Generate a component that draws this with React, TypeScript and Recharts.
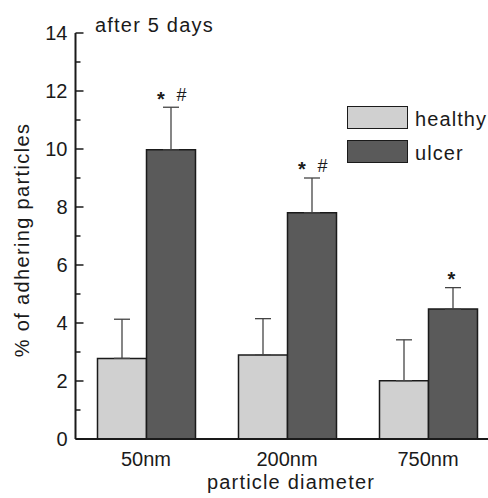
import React from 'react';
import { BarChart, Bar, XAxis, YAxis, ErrorBar, LabelList, Legend, Label } from 'recharts';

// values
const categories = ['50nm', '200nm', '750nm'];
const healthy = [2.78, 2.9, 2.01];
const healthyErr = [1.35, 1.25, 1.41];
const ulcer = [9.97, 7.8, 4.48];
const ulcerErr = [1.47, 1.2, 0.74];
const marks = ['* #', '* #', '*'];
const yTicks = [0, 1, 2, 3, 4, 5, 6, 7, 8, 9, 10, 11, 12, 13, 14];

const FONT = '"Liberation Sans", Arial, Helvetica, sans-serif';
const INK = '#1a1a1a';
const HEALTHY_FILL = '#d0d0d0';
const ULCER_FILL = '#5a5a5a';

const data = categories.map((name, i) => ({
  name,
  healthy: healthy[i],
  ulcer: ulcer[i],
  healthyErr: [0, healthyErr[i]],
  ulcerErr: [0, ulcerErr[i]],
}));

const legendItems = [
  { label: 'healthy', fill: HEALTHY_FILL },
  { label: 'ulcer', fill: ULCER_FILL },
];

// y ticks point into the plot, every other one is a minor tick without text
const YTick = ({ x, y, payload }: any) => {
  const v = payload.value as number;
  const major = v % 2 === 0;
  const axisX = x + 8;
  return (
    <g>
      <line x1={axisX} x2={axisX + (major ? 8 : 5)} y1={y} y2={y} stroke={INK} strokeWidth={1.5} />
      {major && (
        <text x={x} y={y} dy={7} textAnchor="end" fontSize={20} fontFamily={FONT} fill={INK}>
          {v}
        </text>
      )}
    </g>
  );
};

// significance marks sit just above the error bar of the ulcer bars
const renderMark = (props: any) => {
  const { x, y, width, height, value } = props;
  const i = categories.indexOf(value);
  if (i < 0) return null;
  const pxPerUnit = height / ulcer[i];
  const top = y - ulcerErr[i] * pxPerUnit;
  const cx = x + width / 2;
  const hasHash = marks[i].includes('#');
  return (
    <g fontFamily={FONT} fill={INK}>
      <text x={hasHash ? cx - 10 : cx - 1.5} y={top - 1.7} textAnchor="middle" fontSize={20} fontWeight="bold">
        *
      </text>
      {hasHash && (
        <text x={cx + 10.5} y={top - 6.5} textAnchor="middle" fontSize={18}>
          #
        </text>
      )}
    </g>
  );
};

const LegendBox = () => (
  <div style={{ fontFamily: FONT, color: INK }}>
    {legendItems.map((item, i) => (
      <div key={item.label} style={{ display: 'flex', alignItems: 'center', height: 23, marginTop: i === 0 ? 0 : 11 }}>
        <div
          style={{
            width: 61,
            height: 23,
            boxSizing: 'border-box',
            background: item.fill,
            border: `1.5px solid ${INK}`,
          }}
        />
        <span style={{ marginLeft: 7, fontSize: 20, letterSpacing: 1.1, position: 'relative', top: 2, lineHeight: '23px' }}>
          {item.label}
        </span>
      </div>
    ))}
  </div>
);

const YLabel = ({ viewBox }: any) => {
  const cx = 28.5;
  const cy = viewBox.y + viewBox.height / 2 + 4;
  return (
    <text
      x={cx}
      y={cy}
      transform={`rotate(-90 ${cx} ${cy})`}
      textAnchor="middle"
      fontSize={20}
      letterSpacing={1.35}
      fontFamily={FONT}
      fill={INK}
    >
      % of adhering particles
    </text>
  );
};

const XLabel = ({ viewBox }: any) => {
  const cx = viewBox.x + viewBox.width / 2 + 4;
  return (
    <text x={cx} y={489} textAnchor="middle" fontSize={20} letterSpacing={1.2} fontFamily={FONT} fill={INK}>
      particle diameter
    </text>
  );
};

export default function App() {
  return (
    <div style={{ position: 'absolute', left: 0, top: 0, width: 488, height: 498, overflow: 'hidden', background: '#fff' }}>
      <div
        style={{
          position: 'absolute',
          left: 95,
          top: 14.8,
          fontFamily: FONT,
          fontSize: 20,
          lineHeight: '20px',
          letterSpacing: 1.2,
          color: INK,
          zIndex: 2,
        }}
      >
        after 5 days
      </div>
      <BarChart
        width={500}
        height={498}
        data={data}
        margin={{ top: 33, right: 1.5, left: 0, bottom: 29 }}
        barSize={49}
        barGap={0}
      >
        <XAxis
          dataKey="name"
          height={30}
          tickLine={false}
          tickMargin={7}
          axisLine={{ stroke: INK, strokeWidth: 2 }}
          tick={{ fontSize: 20, fontFamily: FONT, fill: INK }}
        >
          <Label content={<XLabel />} />
        </XAxis>
        <YAxis
          width={75.5}
          domain={[0, 14]}
          ticks={yTicks}
          interval={0}
          tickLine={false}
          axisLine={{ stroke: INK, strokeWidth: 2 }}
          tick={<YTick />}
        >
          <Label content={<YLabel />} />
        </YAxis>
        <Legend
          layout="vertical"
          align="center"
          verticalAlign="middle"
          content={<LegendBox />}
          wrapperStyle={{ position: 'absolute', left: 347, top: 106, width: 'auto', height: 'auto' }}
        />
        <Bar dataKey="healthy" fill={HEALTHY_FILL} stroke={INK} strokeWidth={1.5} isAnimationActive={false}>
          <ErrorBar dataKey="healthyErr" width={8} stroke="#444" strokeWidth={1.3} direction="y" />
        </Bar>
        <Bar dataKey="ulcer" fill={ULCER_FILL} stroke={INK} strokeWidth={1.5} isAnimationActive={false}>
          <ErrorBar dataKey="ulcerErr" width={8} stroke="#444" strokeWidth={1.3} direction="y" />
          <LabelList dataKey="name" content={renderMark} />
        </Bar>
      </BarChart>
    </div>
  );
}
